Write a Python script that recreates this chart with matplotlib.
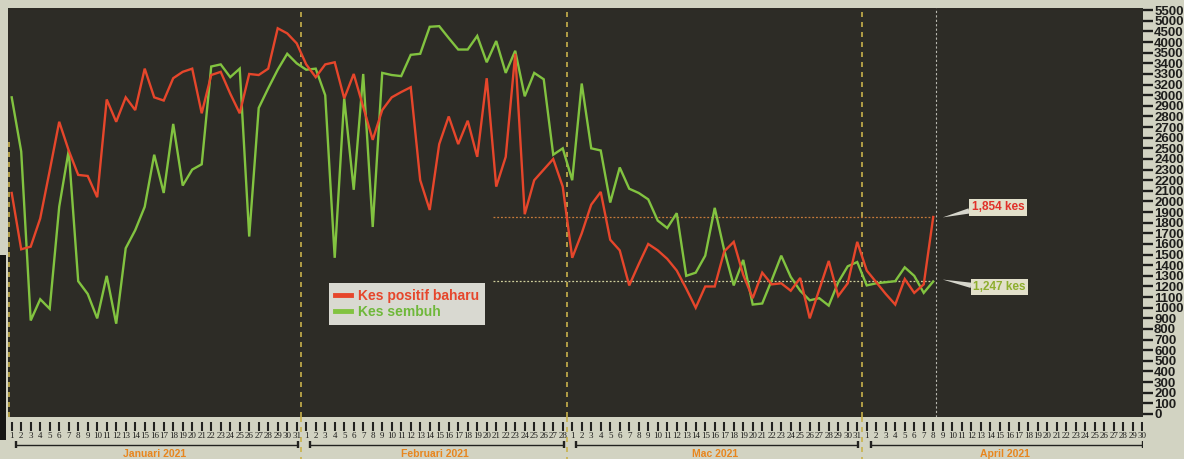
import numpy as np
import matplotlib
matplotlib.use("Agg")
import matplotlib.pyplot as plt
from matplotlib.lines import Line2D
from matplotlib.patches import Rectangle

# ---------------- data ----------------
months = ["Januari 2021", "Februari 2021", "Mac 2021", "April 2021"]
month_days = [31, 28, 31, 30]

# daily values from 1 Jan 2021 to 8 Apr 2021 (in axis-label units)
kes_positif = [2080, 1550, 1575, 1840, 2290, 2750, 2480, 2250, 2240, 2040,
               2960, 2750, 2980, 2860, 3350, 2980, 2950, 3260, 3320, 3350,
               2830, 3290, 3320, 3030, 2830, 3300, 3290, 3350, 4650, 4410,
               3940, 3390, 3270, 3390, 3410, 2970, 3300, 2890, 2580, 2860,
               2980, 3060, 3150, 2200, 1920, 2540, 2800, 2540, 2760, 2420,
               3260, 2140, 2420, 3490, 1880, 2200, 2300, 2400, 2140, 1470,
               1700, 1970, 2090, 1640, 1540, 1210, 1410, 1600, 1540, 1460,
               1350, 1180, 1000, 1200, 1200, 1530, 1620, 1310, 1090, 1330,
               1220, 1230, 1160, 1280, 900, 1170, 1440, 1110, 1230, 1620,
               1350, 1240, 1130, 1030, 1270, 1140, 1220, 1854]
kes_sembuh = [2980, 2470, 880, 1080, 990, 1950, 2480, 1250, 1130, 900,
              1300, 850, 1560, 1730, 1950, 2440, 2080, 2730, 2150, 2300,
              2350, 3370, 3390, 3270, 3350, 1670, 2880, 3130, 3340, 3490,
              3400, 3340, 3350, 3000, 1470, 2970, 2110, 3300, 1760, 3310,
              3290, 3280, 3480, 3490, 4720, 4750, 4190, 3650, 3650, 4290,
              3410, 4050, 3310, 3590, 2990, 3310, 3250, 2440, 2500, 2200,
              3210, 2500, 2480, 1990, 2320, 2120, 2080, 2020, 1820, 1750,
              1890, 1300, 1330, 1490, 1940, 1540, 1210, 1450, 1030, 1040,
              1260, 1490, 1290, 1160, 1070, 1090, 1020, 1240, 1390, 1430,
              1210, 1230, 1240, 1250, 1380, 1300, 1140, 1247]

ytick_values = list(range(0, 3001, 100)) + [3200, 3300, 3400, 3500, 4000, 4500, 5000, 5500]
ytick_labels = [str(v) for v in ytick_values]

series_labels = ["Kes positif baharu", "Kes sembuh"]
last_positif_label = "1,854 kes"
last_sembuh_label = "1,247 kes"

# ---------------- styling ----------------
PAPER = "#d2d3c2"
DARK = "#2d2c26"
RED = "#e6462b"
GREEN = "#82c340"
W, H = 1184, 459


def fx(px):
    return px / W


def fy(py):
    return 1 - py / H


fig = plt.figure(figsize=(W / 100, H / 100), dpi=100, facecolor=PAPER)

# dark edge of the page at the left
fig.patches.append(Rectangle((0, fy(440)), fx(6), fy(255) - fy(440),
                             transform=fig.transFigure, fc="#161614", ec="none", zorder=0))

ax = fig.add_axes([fx(8), fy(417), fx(1143) - fx(8), fy(8) - fy(417)])
ax.set_facecolor(DARK)

# piecewise scale: tick labels are evenly spaced
yv = np.array(ytick_values, dtype=float)
yi = np.arange(len(yv), dtype=float)


def fwd(v):
    v = np.asarray(v, dtype=float)
    return np.where(v < 0, v / 100.0,
                    np.where(v > yv[-1], yi[-1] + (v - yv[-1]) / 500.0, np.interp(v, yv, yi)))


def inv(i):
    i = np.asarray(i, dtype=float)
    return np.where(i < 0, i * 100.0,
                    np.where(i > yi[-1], yv[-1] + (i - yi[-1]) * 500.0, np.interp(i, yi, yv)))


ax.set_yscale("function", functions=(fwd, inv))

days = np.arange(len(kes_positif))
n_total = sum(month_days)
xlim = (-0.39, 119.08)
ax.set_xlim(*xlim)
ax.set_ylim(-28.3, 5604)

# month separators
bounds = np.cumsum(month_days)[:-1] - 0.5
for b in bounds:
    ax.axvline(b, color="#c9b24c", lw=1.2, ls=(0, (3, 3)), zorder=1)
ax.axvline(-0.3, ymax=0.68, color="#c9b24c", lw=1.2, ls=(0, (3, 3)), zorder=1)

last = len(kes_positif) - 1
ax.axvline(last + 0.25, color="#b9b9b0", lw=0.8, ls=(0, (2, 2)), zorder=1)

# reference lines to the latest values
x_ref0 = 50.7
ax.plot([x_ref0, last], [kes_positif[-1]] * 2, color="#c67a3a", lw=0.9, ls=(0, (1.5, 1.5)), zorder=1)
ax.plot([x_ref0, last], [kes_sembuh[-1]] * 2, color="#cfcf9c", lw=0.9, ls=(0, (1.5, 1.5)), zorder=1)

ax.plot(days, kes_sembuh, color=GREEN, lw=1.7, zorder=3, solid_joinstyle="miter")
ax.plot(days, kes_positif, color=RED, lw=1.7, zorder=4, solid_joinstyle="miter")

for s in ax.spines.values():
    s.set_visible(False)
ax.set_xticks([])
ax.yaxis.tick_right()
ax.set_yticks(ytick_values)
ax.set_yticklabels(ytick_labels)
ax.yaxis.set_minor_locator(matplotlib.ticker.NullLocator())
ax.tick_params(axis="y", length=7, width=1.7, pad=1, labelsize=9.5, colors="#1e1e1c")
for lab in ax.get_yticklabels():
    lab.set_fontweight("bold")
    lab.set_family("Liberation Sans")

# annotations
box_kw = dict(boxstyle="square,pad=0.2", fc="#e2e0ca", ec="none")
ax.annotate(last_positif_label, xy=(last + 1.0, 1850), xytext=(103.8, 1945),
            ha="center", va="center", fontsize=8.5, fontweight="bold", color="#e0302a",
            family="Liberation Sans", bbox=box_kw,
            arrowprops=dict(arrowstyle="wedge,tail_width=0.45,shrink_factor=0.5",
                            fc="#d6d6cc", ec="none", shrinkA=0, shrinkB=0, relpos=(0.0, 0.25)),
            zorder=6)
ax.annotate(last_sembuh_label, xy=(last + 1.0, 1265), xytext=(104.0, 1195),
            ha="center", va="center", fontsize=8.5, fontweight="bold", color="#8eae2e",
            family="Liberation Sans", bbox=box_kw,
            arrowprops=dict(arrowstyle="wedge,tail_width=0.45,shrink_factor=0.5",
                            fc="#d6d6cc", ec="none", shrinkA=0, shrinkB=0, relpos=(0.0, 0.6)),
            zorder=6)

# legend
handles = [Line2D([], [], color=RED, lw=3.5), Line2D([], [], color=GREEN, lw=3.5)]
leg = ax.legend(handles, series_labels, loc="upper left",
                bbox_to_anchor=(fx(329), fy(283)), bbox_transform=fig.transFigure,
                frameon=True, fancybox=False, facecolor="#d9d9d1", edgecolor="none",
                framealpha=1, handlelength=1.2, handletextpad=0.5, borderpad=0.4,
                labelspacing=0.2, borderaxespad=0,
                prop=dict(family="Liberation Sans", weight="bold", size=10))
for t, c in zip(leg.get_texts(), [RED, "#6fb83a"]):
    t.set_color(c)
leg.set_zorder(7)

# ---------------- day axis below ----------------
bx = fig.add_axes([fx(8), 0, fx(1143) - fx(8), fy(417)])
bx.set_xlim(*xlim)
bx.set_ylim(H, 417)
bx.axis("off")

all_days = np.arange(n_total)
bx.vlines(all_days, 422, 431, color="#222220", lw=1.5)
starts = np.concatenate([[0], np.cumsum(month_days)[:-1]])
for name, start, n in zip(months, starts, month_days):
    for d in range(1, n + 1):
        bx.text(start + d - 1, 436.5, str(d), ha="center", va="center", fontsize=6.5,
                family="Liberation Serif", color="#1e1e1c")
    end = start + n - 1
    bx.hlines(444.5, start + 0.4, end + 0.1, color="#222220", lw=1.0)
    bx.vlines([start + 0.4, end + 0.1], 441, 448, color="#222220", lw=1.7)
    bx.text((start + end) / 2, 458.6, name, ha="center", va="bottom", fontsize=7.5,
            fontweight="bold", color="#e8861e", family="Liberation Sans")
for b in bounds:
    bx.vlines(b, 417, H, color="#c9b24c", lw=1.2, linestyles=[(0, (3, 3))])

fig.savefig("out.png", dpi=100, facecolor=PAPER)
